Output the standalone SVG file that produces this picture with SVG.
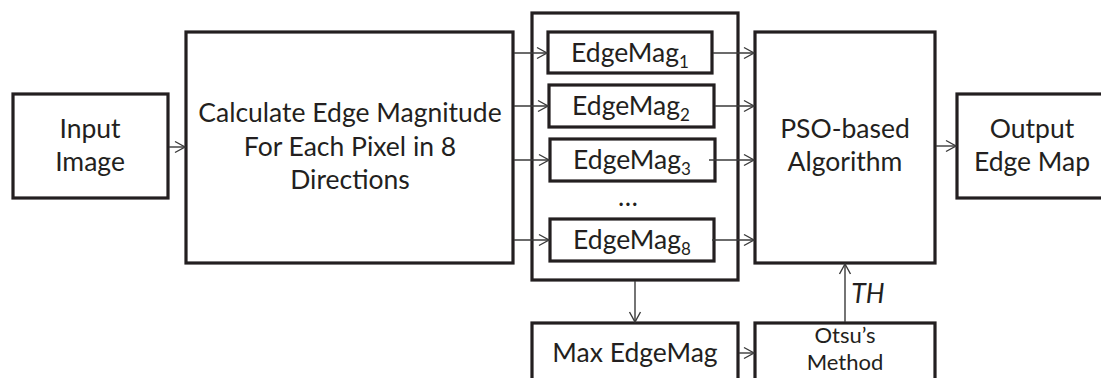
<svg xmlns="http://www.w3.org/2000/svg" width="1101" height="378" viewBox="0 0 1101 378">
  <defs>
    <style>
      .box { fill: #ffffff; stroke: #231f20; stroke-width: 3.2; }
      .lbl { font-family: "Lato", "Open Sans", sans-serif; font-size: 26.5px; fill: #231f20; text-anchor: middle; }
      .sub { font-size: 17px; }
      .tight { font-size: 22px; }
      .wire { fill: none; stroke: #3a3a3a; stroke-width: 1.4; marker-end: url(#arrow); }
    </style>
    <marker id="arrow" markerUnits="userSpaceOnUse" markerWidth="12" markerHeight="14" refX="11" refY="7" orient="auto">
      <path d="M1,1.5 L11,7 L1,12.5" fill="none" stroke="#3a3a3a" stroke-width="1.4"/>
    </marker>
  </defs>

  <rect width="1101" height="378" fill="#ffffff"/>

  <!-- Input -->
  <g id="input-image">
    <rect class="box" x="13" y="94" width="155" height="104"/>
    <text class="lbl" x="90" y="138">Input</text>
    <text class="lbl" x="90" y="171">Image</text>
  </g>

  <!-- Edge magnitude computation -->
  <g id="calc-edge">
    <rect class="box" x="186" y="32" width="327" height="231"/>
    <text class="lbl" x="350" y="122">Calculate Edge Magnitude</text>
    <text class="lbl" x="350" y="156">For Each Pixel in 8</text>
    <text class="lbl" x="350" y="189">Directions</text>
  </g>

  <!-- Container of the eight directional magnitudes -->
  <g id="edgemag-set">
    <rect class="box" x="532" y="13" width="206" height="267"/>
  </g>
  <g id="edgemag-1">
    <rect class="box" x="548" y="32" width="164" height="41"/>
    <text class="lbl" x="630" y="62">EdgeMag<tspan class="sub" dy="6">1</tspan></text>
  </g>
  <g id="edgemag-2">
    <rect class="box" x="549" y="85" width="165" height="42"/>
    <text class="lbl" x="631" y="115">EdgeMag<tspan class="sub" dy="6">2</tspan></text>
  </g>
  <g id="edgemag-3">
    <rect class="box" x="550" y="139" width="165" height="42"/>
    <text class="lbl" x="632" y="169">EdgeMag<tspan class="sub" dy="6">3</tspan></text>
  </g>
  <g id="ellipsis">
    <text class="lbl" x="628" y="206">…</text>
  </g>
  <g id="edgemag-8">
    <rect class="box" x="550" y="219" width="164" height="42"/>
    <text class="lbl" x="632" y="249">EdgeMag<tspan class="sub" dy="6">8</tspan></text>
  </g>

  <!-- PSO -->
  <g id="pso">
    <rect class="box" x="755" y="32" width="180" height="231"/>
    <text class="lbl" x="845" y="138">PSO-based</text>
    <text class="lbl" x="845" y="171">Algorithm</text>
  </g>

  <!-- Output -->
  <g id="output-edge-map">
    <rect class="box" x="957" y="94" width="151" height="104"/>
    <text class="lbl" x="1032" y="138">Output</text>
    <text class="lbl" x="1032" y="171">Edge Map</text>
  </g>

  <!-- Maximum magnitude -->
  <g id="max-edgemag">
    <rect class="box" x="532" y="323" width="206" height="70"/>
    <text class="lbl" x="635" y="362">Max EdgeMag</text>
  </g>

  <!-- Otsu threshold -->
  <g id="otsu">
    <rect class="box" x="755" y="323" width="180" height="70"/>
    <text class="lbl tight" x="845" y="343">Otsu’s</text>
    <text class="lbl tight" x="845" y="370">Method</text>
  </g>

  <!-- Connectors -->
  <g id="connectors">
    <line class="wire" x1="169" y1="147" x2="185" y2="147"/>
    <line class="wire" x1="514" y1="53" x2="547" y2="53"/>
    <line class="wire" x1="514" y1="106" x2="548" y2="106"/>
    <line class="wire" x1="514" y1="160" x2="549" y2="160"/>
    <line class="wire" x1="514" y1="240" x2="549" y2="240"/>
    <line class="wire" x1="713" y1="53" x2="754" y2="53"/>
    <line class="wire" x1="715" y1="106" x2="754" y2="106"/>
    <line class="wire" x1="709" y1="160" x2="754" y2="160"/>
    <line class="wire" x1="712" y1="240" x2="754" y2="240"/>
    <line class="wire" x1="936" y1="146" x2="956" y2="146"/>
    <line class="wire" x1="635" y1="281" x2="635" y2="322"/>
    <line class="wire" x1="739" y1="353" x2="754" y2="353"/>
    <line class="wire" x1="845" y1="322" x2="845" y2="264"/>
    <text class="lbl" x="868" y="303" font-style="italic">TH</text>
  </g>
</svg>
